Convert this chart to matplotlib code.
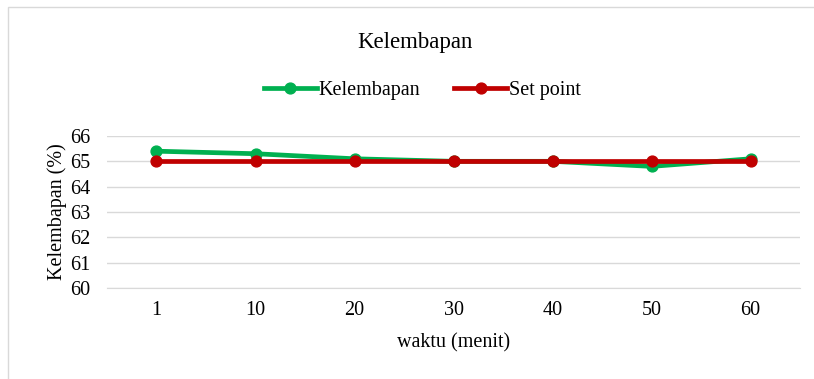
import matplotlib.pyplot as plt
from matplotlib.patches import Rectangle

waktu = ['1', '10', '20', '30', '40', '50', '60']
kelembapan = [65.4, 65.3, 65.1, 65.0, 65.0, 64.8, 65.1]
set_point = [65, 65, 65, 65, 65, 65, 65]

plt.rcParams['font.family'] = ['Liberation Serif', 'DejaVu Serif']

fig = plt.figure(figsize=(8.14, 3.79), dpi=100)
ax = fig.add_axes([0.1314, 0.2401, 0.8516, 0.4011])

x = range(len(waktu))
ax.plot(x, kelembapan, color='#00b050', lw=3.4, marker='o', ms=7.8, label='Kelembapan',
        solid_joinstyle='round', zorder=3)
ax.plot(x, set_point, color='#c00000', lw=3.4, marker='o', ms=7.8, label='Set point',
        solid_joinstyle='round', zorder=4)

ax.set_xlim(-0.5, len(waktu) - 0.5)
ax.set_ylim(60, 66)
ax.set_yticks(range(60, 67))
ax.set_xticks(list(x))
ax.set_xticklabels(waktu)
ax.grid(axis='y', color='#d9d9d9', lw=1)
ax.set_axisbelow(True)
for s in ['top', 'right', 'left']:
    ax.spines[s].set_visible(False)
ax.spines['bottom'].set_color('#d9d9d9')
ax.tick_params(length=0, labelsize=14.5, colors='black')
ax.tick_params(axis='y', pad=12)
ax.tick_params(axis='x', pad=9)

ax.set_xlabel('waktu (menit)', fontsize=14.5, labelpad=10)
ax.set_ylabel('Kelembapan (%)', fontsize=14.5, labelpad=2)

fig.text(0.51, 0.889, 'Kelembapan', ha='center', va='center', fontsize=16.5)
fig.legend(loc='center', bbox_to_anchor=(0.519, 0.762), ncol=2, frameon=False,
           fontsize=14.5, handlelength=2.6, handletextpad=0.1, columnspacing=1.7)

# outer chart frame
fig.patches.append(Rectangle((8 / 814, -0.1), 1.2, 1 - 7 / 379 + 0.1, transform=fig.transFigure,
                             fill=False, edgecolor='#d9d9d9', lw=1))

fig.savefig('out.png', dpi=100)
